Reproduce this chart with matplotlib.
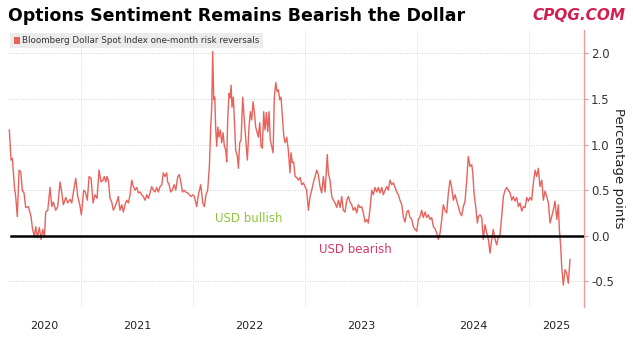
import matplotlib
matplotlib.use("Agg")
import matplotlib.pyplot as plt
from matplotlib.patches import Rectangle

# Risk reversal series (time in decimal years, value in percentage points)
t = [
    2020.360, 2020.375, 2020.387, 2020.405, 2020.417, 2020.431, 2020.447, 2020.462, 2020.476, 2020.491,
    2020.506, 2020.530, 2020.554, 2020.565, 2020.583, 2020.596, 2020.610, 2020.628, 2020.643, 2020.658,
    2020.673, 2020.685, 2020.703, 2020.723, 2020.739, 2020.753, 2020.774, 2020.792, 2020.813, 2020.828,
    2020.842, 2020.864, 2020.881, 2020.902, 2020.917, 2020.935, 2020.953, 2020.971, 2020.989, 2021.003,
    2021.024, 2021.039, 2021.056, 2021.072, 2021.090, 2021.107, 2021.125, 2021.143, 2021.161, 2021.179,
    2021.197, 2021.208, 2021.221, 2021.232, 2021.244, 2021.259, 2021.274, 2021.289, 2021.304, 2021.319,
    2021.333, 2021.348, 2021.364, 2021.378, 2021.393, 2021.408, 2021.423, 2021.438, 2021.453, 2021.467,
    2021.482, 2021.498, 2021.512, 2021.527, 2021.542, 2021.556, 2021.572, 2021.587, 2021.601, 2021.616,
    2021.631, 2021.646, 2021.661, 2021.676, 2021.690, 2021.706, 2021.721, 2021.735, 2021.750, 2021.765,
    2021.774, 2021.786, 2021.801, 2021.815, 2021.831, 2021.846, 2021.864, 2021.878, 2021.893, 2021.905,
    2021.920, 2021.935, 2021.953, 2021.967, 2021.982, 2021.998, 2022.012, 2022.033, 2022.048, 2022.069,
    2022.087, 2022.101, 2022.116, 2022.131, 2022.146, 2022.158, 2022.167, 2022.176, 2022.185, 2022.194,
    2022.203, 2022.212, 2022.221, 2022.232, 2022.244, 2022.256, 2022.268, 2022.280, 2022.292, 2022.301,
    2022.310, 2022.322, 2022.331, 2022.340, 2022.348, 2022.360, 2022.369, 2022.381, 2022.396, 2022.405,
    2022.417, 2022.429, 2022.444, 2022.456, 2022.471, 2022.485, 2022.500, 2022.512, 2022.524, 2022.536,
    2022.548, 2022.560, 2022.572, 2022.583, 2022.596, 2022.607, 2022.619, 2022.631, 2022.643, 2022.655,
    2022.667, 2022.679, 2022.690, 2022.703, 2022.715, 2022.726, 2022.739, 2022.750, 2022.762, 2022.774,
    2022.786, 2022.798, 2022.810, 2022.822, 2022.837, 2022.851, 2022.866, 2022.875, 2022.887, 2022.899,
    2022.911, 2022.926, 2022.940, 2022.956, 2022.971, 2022.985, 2023.000, 2023.015, 2023.030, 2023.045,
    2023.060, 2023.074, 2023.090, 2023.105, 2023.119, 2023.134, 2023.149, 2023.164, 2023.179, 2023.199,
    2023.208, 2023.223, 2023.239, 2023.253, 2023.268, 2023.283, 2023.298, 2023.313, 2023.328, 2023.342,
    2023.357, 2023.373, 2023.387, 2023.402, 2023.417, 2023.431, 2023.447, 2023.462, 2023.476, 2023.491,
    2023.506, 2023.521, 2023.536, 2023.551, 2023.565, 2023.581, 2023.596, 2023.610, 2023.625, 2023.640,
    2023.655, 2023.670, 2023.685, 2023.699, 2023.715, 2023.730, 2023.744, 2023.759, 2023.774, 2023.789,
    2023.804, 2023.819, 2023.833, 2023.848, 2023.864, 2023.878, 2023.893, 2023.908, 2023.922, 2023.938,
    2023.953, 2023.967, 2023.982, 2023.998, 2024.012, 2024.027, 2024.042, 2024.056, 2024.072, 2024.087,
    2024.101, 2024.116, 2024.131, 2024.146, 2024.161, 2024.176, 2024.190, 2024.206, 2024.221, 2024.235,
    2024.250, 2024.265, 2024.280, 2024.295, 2024.310, 2024.324, 2024.340, 2024.355, 2024.369, 2024.384,
    2024.399, 2024.414, 2024.429, 2024.444, 2024.458, 2024.473, 2024.489, 2024.498, 2024.509, 2024.524,
    2024.539, 2024.548, 2024.563, 2024.578, 2024.592, 2024.607, 2024.623, 2024.637, 2024.652, 2024.667,
    2024.681, 2024.697, 2024.712, 2024.726, 2024.741, 2024.756, 2024.771, 2024.786, 2024.801, 2024.815,
    2024.831, 2024.846, 2024.860, 2024.875, 2024.890, 2024.905, 2024.920, 2024.935, 2024.949, 2024.965,
    2024.980, 2024.994, 2025.009, 2025.024, 2025.039, 2025.054, 2025.069, 2025.083, 2025.098, 2025.114,
    2025.128, 2025.143, 2025.158, 2025.173, 2025.188, 2025.203, 2025.217, 2025.232, 2025.248, 2025.262,
    2025.271, 2025.283, 2025.292, 2025.306, 2025.322, 2025.337, 2025.351, 2025.366,
]
rr = [
    1.16, 0.83, 0.85, 0.54, 0.43, 0.21, 0.72, 0.70, 0.50, 0.47,
    0.31, 0.32, 0.21, 0.09, -0.01, 0.10, -0.02, 0.09, -0.04, 0.07,
    -0.01, 0.26, 0.28, 0.53, 0.32, 0.37, 0.28, 0.32, 0.59, 0.47,
    0.34, 0.42, 0.36, 0.40, 0.36, 0.50, 0.63, 0.43, 0.34, 0.23,
    0.50, 0.48, 0.39, 0.65, 0.63, 0.36, 0.45, 0.41, 0.72, 0.59,
    0.61, 0.65, 0.59, 0.65, 0.61, 0.41, 0.37, 0.28, 0.32, 0.37,
    0.43, 0.28, 0.34, 0.26, 0.34, 0.39, 0.36, 0.45, 0.61, 0.54,
    0.50, 0.53, 0.47, 0.48, 0.45, 0.43, 0.39, 0.45, 0.41, 0.47,
    0.54, 0.50, 0.48, 0.53, 0.48, 0.54, 0.56, 0.69, 0.65, 0.69,
    0.59, 0.56, 0.48, 0.50, 0.56, 0.50, 0.65, 0.67, 0.58, 0.48,
    0.50, 0.48, 0.47, 0.45, 0.43, 0.45, 0.43, 0.32, 0.45, 0.56,
    0.36, 0.32, 0.45, 0.50, 0.76, 1.19, 1.41, 2.02, 1.49, 1.52,
    1.16, 0.98, 1.19, 1.08, 1.16, 1.02, 1.13, 0.98, 0.94, 0.81,
    1.30, 1.56, 1.51, 1.65, 1.41, 1.52, 1.27, 0.94, 0.87, 0.74,
    1.02, 1.05, 1.52, 1.30, 1.05, 0.83, 1.19, 1.36, 1.27, 1.47,
    1.35, 1.19, 1.13, 1.08, 1.24, 0.98, 0.96, 1.36, 1.16, 1.35,
    1.14, 1.36, 1.05, 0.98, 0.91, 1.52, 1.68, 1.58, 1.60, 1.49,
    1.52, 1.30, 1.10, 1.02, 1.08, 0.94, 0.69, 0.91, 0.80, 0.81,
    0.65, 0.64, 0.61, 0.64, 0.56, 0.58, 0.54, 0.50, 0.28, 0.43,
    0.50, 0.58, 0.65, 0.72, 0.67, 0.54, 0.47, 0.65, 0.48, 0.89,
    0.69, 0.61, 0.43, 0.39, 0.36, 0.31, 0.39, 0.31, 0.43, 0.28,
    0.26, 0.39, 0.43, 0.37, 0.34, 0.28, 0.31, 0.25, 0.34, 0.31,
    0.32, 0.25, 0.15, 0.18, 0.14, 0.30, 0.50, 0.45, 0.53, 0.48,
    0.53, 0.47, 0.53, 0.45, 0.50, 0.54, 0.50, 0.61, 0.56, 0.58,
    0.53, 0.48, 0.45, 0.39, 0.34, 0.21, 0.15, 0.26, 0.28, 0.20,
    0.18, 0.10, 0.07, 0.05, 0.18, 0.21, 0.28, 0.20, 0.26, 0.20,
    0.23, 0.18, 0.20, 0.10, 0.08, 0.03, -0.04, 0.03, 0.18, 0.34,
    0.28, 0.25, 0.47, 0.61, 0.53, 0.39, 0.45, 0.38, 0.32, 0.25,
    0.22, 0.32, 0.38, 0.61, 0.87, 0.76, 0.78, 0.69, 0.47, 0.32,
    0.14, 0.21, 0.23, 0.20, -0.04, 0.12, 0.03, -0.04, -0.19, -0.04,
    0.07, -0.04, -0.10, -0.01, 0.01, 0.21, 0.43, 0.50, 0.53, 0.50,
    0.47, 0.39, 0.43, 0.38, 0.42, 0.32, 0.36, 0.27, 0.32, 0.31,
    0.42, 0.38, 0.42, 0.39, 0.58, 0.72, 0.65, 0.74, 0.54, 0.61,
    0.39, 0.49, 0.43, 0.36, 0.14, 0.21, 0.28, 0.38, 0.18, 0.34,
    0.07, -0.12, -0.34, -0.54, -0.37, -0.41, -0.52, -0.26,
]

years = [2020, 2021, 2022, 2023, 2024, 2025]
y_ticks = [-0.5, 0.0, 0.5, 1.0, 1.5, 2.0]

TITLE = "Options Sentiment Remains Bearish the Dollar"
SERIES = "Bloomberg Dollar Spot Index one-month risk reversals"
LINE_COLOR = "#e8625c"

W, H = 633, 337
fig = plt.figure(figsize=(W / 100, H / 100), dpi=100)
ax = fig.add_axes([8 / W, 1 - 307 / H, 576 / W, 277 / H])

x_min, x_max = 2020.348, 2025.491
ax.set_xlim(x_min, x_max)
ax.set_ylim(-0.78, 2.255)

ax.plot(t, rr, color=LINE_COLOR, linewidth=1.0, zorder=3)
ax.axhline(0, color="black", linewidth=1.8, zorder=4, xmin=0.005)

# gridlines: horizontal dotted, vertical at year boundaries
for v in y_ticks:
    if v != 0:
        ax.axhline(v, color="#cfcfcf", linewidth=0.7, linestyle=(0, (1, 1.5)), zorder=1)
for yr in years[1:]:
    ax.axvline(yr, color="#e2e2e2", linewidth=0.7, linestyle=(0, (1, 1)), zorder=1)

# year labels centred on the visible part of each year
mids = [(max(y, x_min) + min(y + 1, x_max)) / 2 for y in years]
ax.set_xticks(mids)
ax.set_xticklabels([str(y) for y in years])
ax.tick_params(axis="x", length=0, pad=10, labelsize=8, labelcolor="#222222")

ax.yaxis.tick_right()
ax.set_yticks(y_ticks)
ax.set_yticklabels([f"{v:.1f}" for v in y_ticks])
ax.tick_params(axis="y", length=3, width=0.8, color="#c8a0a0", pad=2,
               labelsize=8.5, labelcolor="#333333")

for side in ["left", "top", "bottom"]:
    ax.spines[side].set_visible(False)
ax.spines["right"].set_color("#f19a9a")
ax.spines["right"].set_linewidth(1.0)

ax.text(2022.50, 0.19, "USD bullish", color="#8dc63f", fontsize=8.5, ha="center", va="center")
ax.text(2023.447, -0.15, "USD bearish", color="#d9386a", fontsize=8.5, ha="center", va="center")

# legend box
fig.patches.append(Rectangle((10 / W, 1 - 48 / H), 253 / W, 15 / H, transform=fig.transFigure,
                             facecolor="#ececec", edgecolor="none", zorder=5))
fig.patches.append(Rectangle((14 / W, 1 - 44 / H), 6 / W, 7 / H, transform=fig.transFigure,
                             facecolor=LINE_COLOR, edgecolor="none", zorder=6))
fig.text(22 / W, 1 - 40.5 / H, SERIES, color="#333333", fontsize=6.3,
         ha="left", va="center", zorder=7)

fig.text(612 / W, 1 - 168 / H, "Percentage points", rotation=-90, fontsize=9.5,
         color="#222222", ha="left", va="center")

fig.text(8 / W, 1 - 16 / H, TITLE, fontsize=12.5, fontweight="bold",
         color="black", ha="left", va="center")
fig.text(625 / W, 1 - 15 / H, "CPQG.COM", fontsize=11, fontweight="bold", style="italic",
         color="#d31f4f", ha="right", va="center")

fig.savefig("out.png", dpi=100)
